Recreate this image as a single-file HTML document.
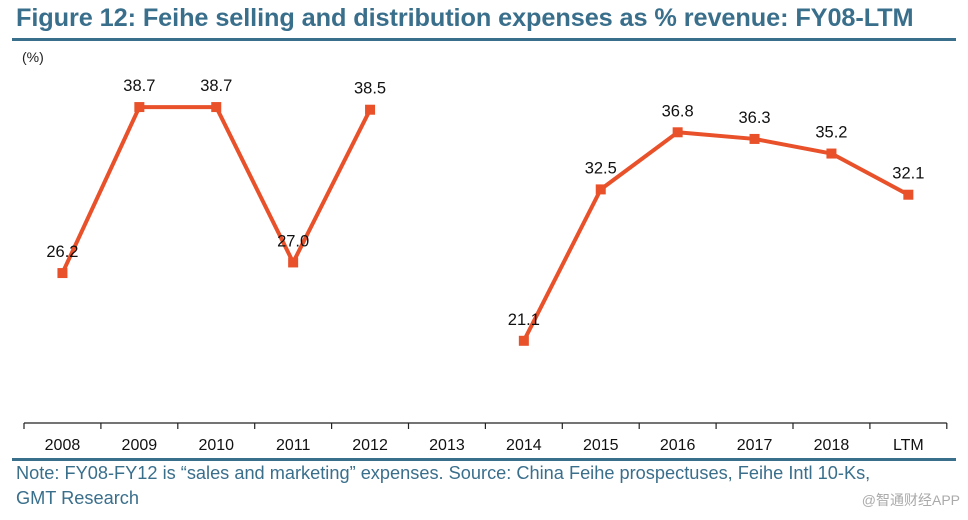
<!DOCTYPE html>
<html><head><meta charset="utf-8"><style>
body{margin:0;background:#fff;font-family:"Liberation Sans","Noto Sans CJK SC",sans-serif;}
#wrap{position:relative;width:968px;height:520px;overflow:hidden;}
.title{position:absolute;left:16px;top:4px;font-size:25.3px;font-weight:bold;color:#3a6f8c;white-space:nowrap;letter-spacing:-0.1px}
.rule{position:absolute;left:12px;width:944px;height:3px;background:#3a6f8c}
.note{position:absolute;left:16px;top:461px;font-size:18.2px;color:#3a6f8c;line-height:25px}
.wm{position:absolute;right:8px;top:490px;font-size:14px;color:#aaa}
</style></head><body>
<div id="wrap">
<div class="title">Figure 12: Feihe selling and distribution expenses as % revenue: FY08-LTM</div>
<div class="rule" style="top:38px"></div>
<svg id="svg" width="968" height="520" style="position:absolute;left:0;top:0"></svg>
<div class="rule" style="top:458px"></div>
<div class="note">Note: FY08-FY12 is “sales and marketing” expenses. Source: China Feihe prospectuses, Feihe Intl 10-Ks,<br>GMT Research</div>
<div class="wm">@智通财经APP</div>
</div>
<script>
const categories=["2008","2009","2010","2011","2012","2013","2014","2015","2016","2017","2018","LTM"];
const values=[26.2,38.7,38.7,27.0,38.5,null,21.1,32.5,36.8,36.3,35.2,32.1];
const labels=["26.2","38.7","38.7","27.0","38.5","","21.1","32.5","36.8","36.3","35.2","32.1"];
const NS="http://www.w3.org/2000/svg";
const svg=document.getElementById('svg');
const x0=24,step=76.9,axisY=423;
const xs=i=>x0+step*(i+0.5);
const ys=v=>621-v*13.28;
function mk(t,a){const e=document.createElementNS(NS,t);for(const k in a)e.setAttribute(k,a[k]);svg.appendChild(e);return e;}
let u=mk('text',{x:22,y:62,'font-size':14,fill:'#222'});u.textContent='(%)';


let ax=mk('line',{x1:x0,x2:x0+step*12,y1:axisY,y2:axisY,stroke:'#222','stroke-width':1.2});


for(let i=0;i<=12;i++){let t=mk('line',{x1:x0+step*i,x2:x0+step*i,y1:axisY,y2:axisY+6,stroke:'#222','stroke-width':1.2});

}
categories.forEach((c,i)=>{let t=mk('text',{x:xs(i),y:450,'font-size':16,'text-anchor':'middle',fill:'#111'});t.textContent=c;

});
let segs=[],cur=[];
values.forEach((v,i)=>{if(v==null){if(cur.length)segs.push(cur);cur=[];}else cur.push([xs(i),ys(v)]);});
if(cur.length)segs.push(cur);
segs.forEach(s=>{let p=mk('polyline',{points:s.map(q=>q.join(',')).join(' '),fill:'none',stroke:'#e8512a','stroke-width':4,'stroke-linejoin':'round'});

});
values.forEach((v,i)=>{if(v==null)return;
let r=mk('rect',{x:xs(i)-5,y:ys(v)-5,width:10,height:10,fill:'#e8512a'});


let t=mk('text',{x:xs(i),y:ys(v)-16,'font-size':16.5,'text-anchor':'middle',fill:'#111'});t.textContent=labels[i];

});
</script>
</body></html>
